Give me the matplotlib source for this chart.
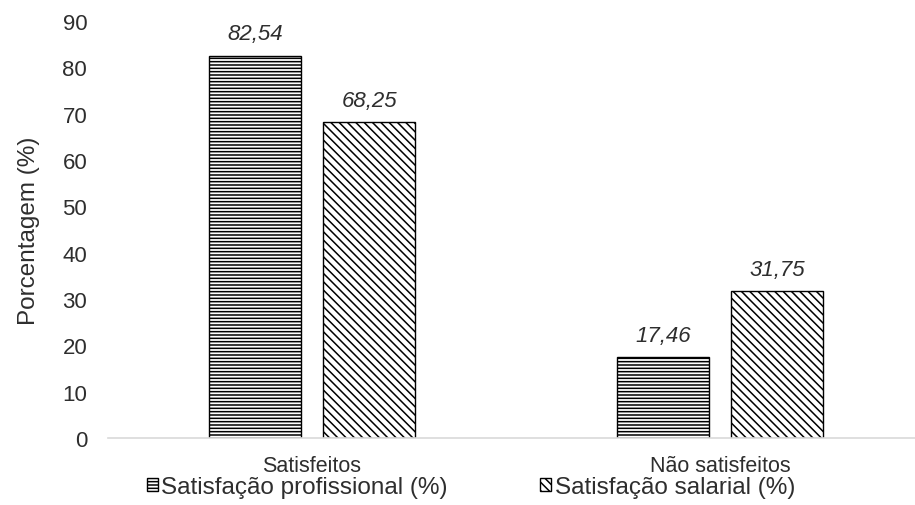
import matplotlib
matplotlib.use('Agg')
import matplotlib.pyplot as plt
import numpy as np

# dados da pesquisa
categorias = ['Satisfeitos', 'Não satisfeitos']
profissional = [82.54, 17.46]
salarial = [68.25, 31.75]
series = ['Satisfação profissional (%)', 'Satisfação salarial (%)']

plt.rcParams['font.family'] = ['Liberation Sans', 'DejaVu Sans']
plt.rcParams['hatch.linewidth'] = 1.1
plt.rcParams['hatch.color'] = 'black'
cor_texto = '#2e2e2e'

fig = plt.figure(figsize=(9.15, 5.06), dpi=100)
ax = fig.add_axes([108 / 915, 67 / 506, 816 / 915, 417 / 506])

x = np.arange(len(categorias))
larg = 0.2255
desl = 0.1403

b1 = ax.bar(x - desl, profissional, larg, color='white', edgecolor='black',
            linewidth=1.0, hatch='-----', label=series[0])
b2 = ax.bar(x + desl, salarial, larg, color='white', edgecolor='black',
            linewidth=1.0, hatch='\\\\\\\\', label=series[1])

# rótulos de valor com vírgula decimal
for barras in (b1, b2):
    for r in barras:
        v = r.get_height()
        ax.text(r.get_x() + r.get_width() / 2, v + 2.4, f'{v:.2f}'.replace('.', ','),
                ha='center', va='bottom', fontsize=16, style='italic', color=cor_texto)

ax.set_xlim(-0.5, 1.5)
ax.set_ylim(0, 90)
ax.set_yticks(range(0, 91, 10))
ax.set_xticks(x)
ax.set_xticklabels(categorias, fontsize=15.5, color=cor_texto)
ax.tick_params(axis='y', length=0, pad=15, labelsize=16, labelcolor=cor_texto)
ax.tick_params(axis='x', length=0, pad=12)
for s in ['top', 'right', 'left']:
    ax.spines[s].set_visible(False)
ax.spines['bottom'].set_color('#d9d9d9')
ax.spines['bottom'].set_linewidth(1.2)

ax.set_ylabel('Porcentagem (%)', fontsize=17.5, color=cor_texto, labelpad=16)

fig.legend(handles=[b1, b2], labels=series, loc='center',
           bbox_to_anchor=(471 / 915, 1 - 488 / 506), ncol=2, frameon=False,
           fontsize=17.5, handlelength=0.45, handleheight=0.45,
           handletextpad=0.15, columnspacing=3.8, borderpad=0, labelcolor=cor_texto)

plt.savefig('out.png', dpi=100)
plt.close()
